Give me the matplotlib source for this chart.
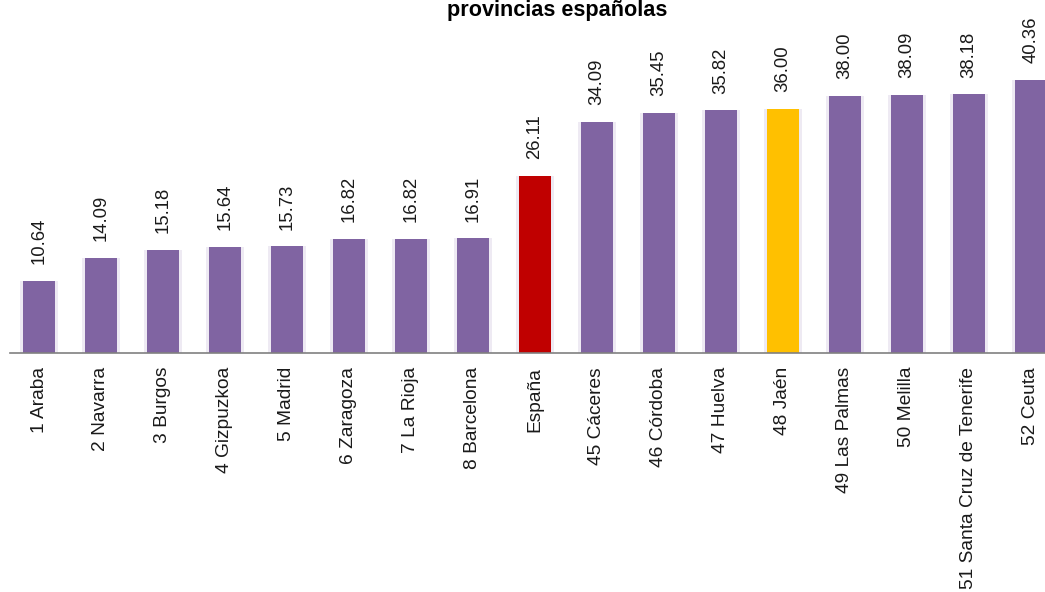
import numpy as np
import matplotlib.pyplot as plt

plt.rcParams['font.family'] = ['Liberation Sans', 'DejaVu Sans']

labels = ['1 Araba', '2 Navarra', '3 Burgos', '4 Gizpuzkoa', '5 Madrid',
          '6 Zaragoza', '7 La Rioja', '8 Barcelona', 'España', '45 Cáceres',
          '46 Córdoba', '47 Huelva', '48 Jaén', '49 Las Palmas', '50 Melilla',
          '51 Santa Cruz de Tenerife', '52 Ceuta']
values = [10.64, 14.09, 15.18, 15.64, 15.73, 16.82, 16.82, 16.91, 26.11,
          34.09, 35.45, 35.82, 36.00, 38.00, 38.09, 38.18, 40.36]

purple = '#8064a2'
colors = [purple] * len(values)
colors[labels.index('España')] = '#c00000'
colors[labels.index('48 Jaén')] = '#ffc000'

fig = plt.figure(figsize=(10.45, 5.92), dpi=100)
ax = fig.add_axes([10 / 1045, 1 - 353 / 592, 1035 / 1045, 353 / 592])

x = np.arange(len(values))
# soft glow behind bars
ax.bar(x, values, width=0.62, color='#eeeaf3', zorder=1)
ax.bar(x, values, width=0.52, color=colors, zorder=2)

for xi, v in zip(x, values):
    ax.annotate('%.2f' % v, (xi, v), xytext=(0, 12), textcoords='offset points',
                rotation=90, ha='center', va='bottom', fontsize=13.3,
                color='#1a1a1a')

ax.set_xlim(-0.468, 16.23)
ax.set_ylim(0, 52.1)
ax.set_yticks([])
ax.set_xticks(x)
ax.set_xticklabels(labels, rotation=90, fontsize=13.8, color='#1a1a1a')
ax.tick_params(axis='x', length=0, pad=10)
for s in ['top', 'right', 'left']:
    ax.spines[s].set_visible(False)
ax.spines['bottom'].set_color('#808080')
ax.spines['bottom'].set_linewidth(1.2)

fig.text(557 / 1045, 1 - 16 / 592, 'provincias españolas', ha='center',
         va='baseline', fontsize=15.6, fontweight='bold')

fig.savefig('out.png', dpi=100)
